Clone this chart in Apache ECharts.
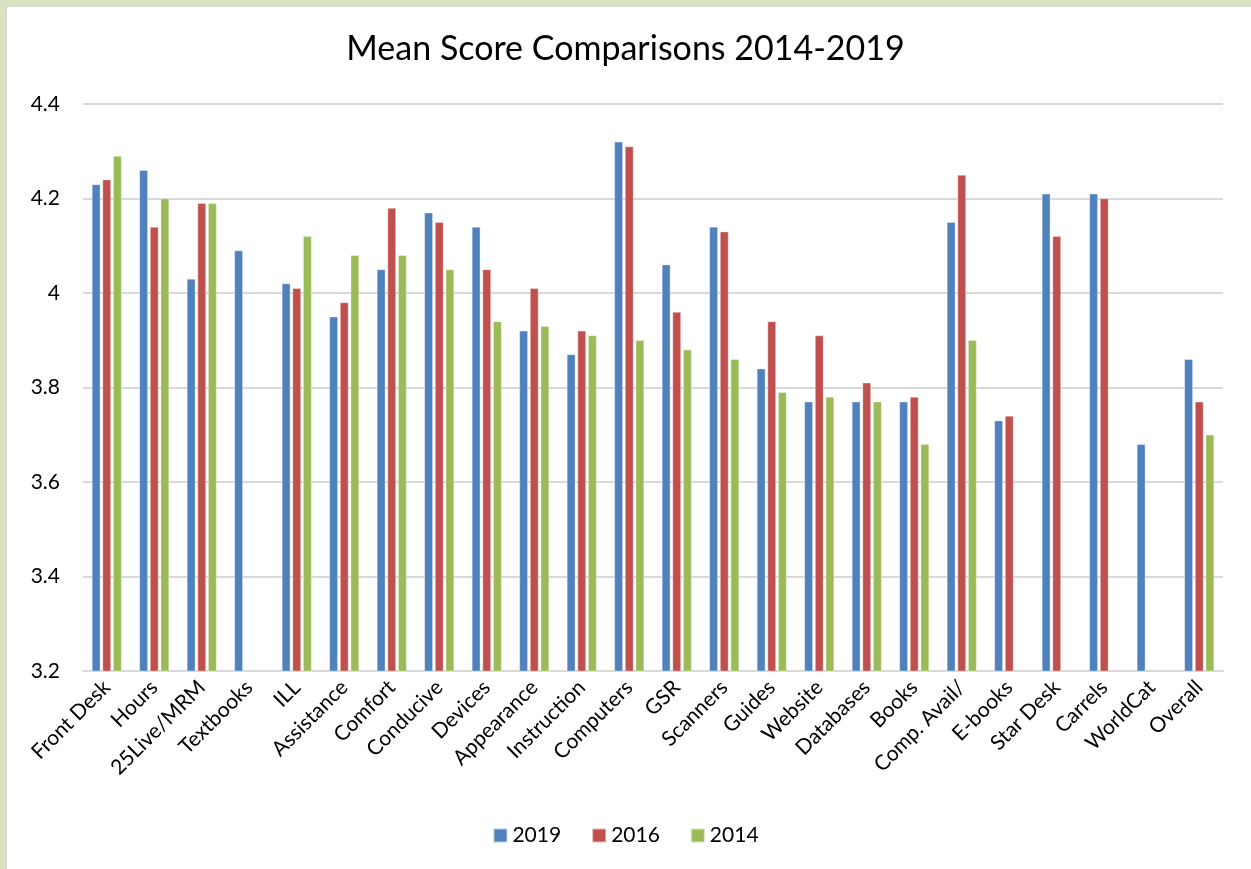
<!DOCTYPE html>
<html>
<head>
<meta charset="utf-8">
<script src="https://cdn.jsdelivr.net/npm/echarts@6/dist/echarts.min.js"></script>
<style>
html,body{margin:0;padding:0;width:1251px;height:869px;overflow:hidden;background:#D7E4BD;}
#card{position:absolute;left:5px;top:5px;width:1260px;height:880px;background:#fff;border-left:2px solid #D9D9D9;border-top:2px solid #D9D9D9;}
#chart{position:absolute;left:0;top:0;width:1251px;height:869px;}
</style>
</head>
<body>
<div id="card"></div>
<div id="chart"></div>
<script>
const categories = ["Front Desk","Hours","25Live/MRM","Textbooks","ILL","Assistance","Comfort","Conducive","Devices","Appearance","Instruction","Computers","GSR","Scanners","Guides","Website","Databases","Books","Comp. Avail/","E-books","Star Desk","Carrels","WorldCat","Overall"];
const s2019 = [4.23,4.26,4.03,4.09,4.02,3.95,4.05,4.17,4.14,3.92,3.87,4.32,4.06,4.14,3.84,3.77,3.77,3.77,4.15,3.73,4.21,4.21,3.68,3.86];
const s2016 = [4.24,4.14,4.19,null,4.01,3.98,4.18,4.15,4.05,4.01,3.92,4.31,3.96,4.13,3.94,3.91,3.81,3.78,4.25,3.74,4.12,4.20,null,3.77];
const s2014 = [4.29,4.20,4.19,null,4.12,4.08,4.08,4.05,3.94,3.93,3.91,3.90,3.88,3.86,3.79,3.78,3.77,3.68,3.90,null,null,null,null,3.70];
const seriesNames = ["2019","2016","2014"];
const colors = ["#4F81BD","#C0504D","#9BBB59"];
const yTicks = {min:3.2, max:4.4, interval:0.2};

const chart = echarts.init(document.getElementById('chart'), null, {renderer:'canvas'});
const font = 'Lato, "Open Sans", sans-serif';
const mk = (name, data, i) => ({
  name, type:'bar', data, barWidth:8.5, barGap:'25%',
  itemStyle:{color:colors[i], borderColor:'rgba(255,255,255,0.6)', borderWidth:0.6}
});
chart.setOption({
  backgroundColor:'transparent',
  animation:false,
  title:{text:'Mean Score Comparisons 2014-2019', left:'center', top:27,
    textStyle:{fontFamily:font, fontSize:34, fontWeight:'normal', color:'#000'}},
  legend:{bottom:18, left:'center', itemWidth:14, itemHeight:14, itemGap:30,
    icon:'rect', textStyle:{fontFamily:font, fontSize:21, color:'#000'}},
  grid:{left:83, right:28, top:104, bottom:198, containLabel:false},
  xAxis:{type:'category', data:categories,
    axisLine:{lineStyle:{color:'#D9D9D9', width:2}},
    axisTick:{show:false},
    axisLabel:{rotate:45, interval:0, fontFamily:font, fontSize:21, color:'#000', margin:13}},
  yAxis:{type:'value', min:yTicks.min, max:yTicks.max, interval:yTicks.interval,
    axisLine:{show:false}, axisTick:{show:false},
    splitLine:{lineStyle:{color:'#D9D9D9', width:2}},
    axisLabel:{fontFamily:font, fontSize:21, color:'#000', margin:23,
      formatter:v=>String(Math.round(v*10)/10)}},
  series:[mk(seriesNames[0], s2019, 0), mk(seriesNames[1], s2016, 1), mk(seriesNames[2], s2014, 2)]
});
</script>
</body>
</html>
